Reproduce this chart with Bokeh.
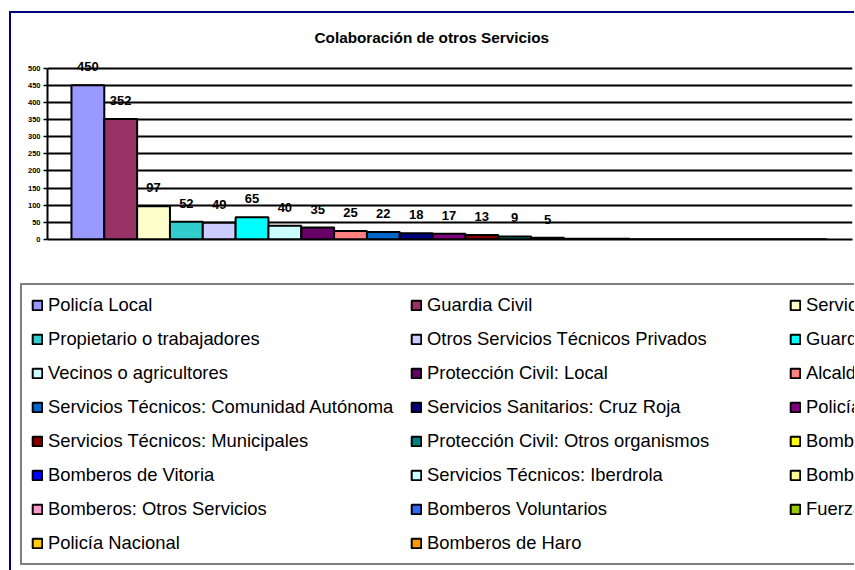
from bokeh.plotting import figure
from bokeh.layouts import column
from bokeh.models import (ColumnDataSource, Range1d, FixedTicker, Legend, LegendItem,
                          LabelSet)
from bokeh.core.properties import value
from bokeh.embed import file_html
from bokeh.resources import INLINE

title = "Colaboración de otros Servicios"

categories = [
    "Policía Local", "Guardia Civil", "Servicios Sanitarios: Ambulancias",
    "Propietario o trabajadores", "Otros Servicios Técnicos Privados", "Guardería Forestal",
    "Vecinos o agricultores", "Protección Civil: Local", "Alcaldía",
    "Servicios Técnicos: Comunidad Autónoma", "Servicios Sanitarios: Cruz Roja", "Policía Autonómica",
    "Servicios Técnicos: Municipales", "Protección Civil: Otros organismos", "Bomberos Forestales",
    "Bomberos de Vitoria", "Servicios Técnicos: Iberdrola", "Bomberos de Miranda",
    "Bomberos: Otros Servicios", "Bomberos Voluntarios", "Fuerzas Armadas",
    "Policía Nacional", "Bomberos de Haro",
]

values = [450, 352, 97, 52, 49, 65, 40, 35, 25, 22, 18, 17, 13, 9, 5,
          2, 2, 1, 1, 1, 1, 1, 1]

shown_labels = ["450", "352", "97", "52", "49", "65", "40", "35", "25", "22",
                "18", "17", "13", "9", "5", "", "", "", "", "", "", "", ""]

colors = ["#9999FF", "#993366", "#FFFFCC", "#33CCCC", "#CCCCFF", "#00FFFF",
          "#CCFFFF", "#660066", "#FF8080", "#0066CC", "#000080", "#800080",
          "#800000", "#008080", "#FFFF00", "#0000FF", "#CCFFFF", "#FFFF99",
          "#FF99CC", "#3366FF", "#99CC00", "#FFCC00", "#FF9900"]

y_ticks = [0, 50, 100, 150, 200, 250, 300, 350, 400, 450, 500]

idx = list(range(len(categories)))
source = ColumnDataSource(dict(x=idx, top=values, color=colors, name=categories,
                               lab=shown_labels))

# ---------------- chart ----------------
p = figure(width=843, height=262, output_backend="svg", toolbar_location=None,
           x_range=Range1d(-1.23, len(categories) - 0.5 + 0.79),
           y_range=Range1d(0, 540),
           min_border_left=36, min_border_right=2, min_border_top=41,
           min_border_bottom=36)

p.background_fill_color = "white"
p.border_fill_color = "white"
p.outline_line_color = None

p.title.text = title
p.title.align = "left"
p.title.offset = 267
p.title.text_font = "Liberation Sans"
p.title.text_font_size = "15.3px"
p.title.text_font_style = "bold"
p.title.text_color = "black"
p.title.standoff = 17

r = p.vbar(x="x", top="top", width=1.0, source=source, fill_color="color",
           line_color="black", line_width=2)

labels = LabelSet(x="x", y="top", text="lab", source=source, y_offset=14,
                  text_align="center", text_baseline="alphabetic",
                  text_font=value("Liberation Sans"), text_font_size=value("13px"),
                  text_font_style="bold", text_color="black")
p.add_layout(labels)

p.xgrid.visible = False
p.ygrid.ticker = FixedTicker(ticks=y_ticks)
p.ygrid.grid_line_color = "black"
p.ygrid.grid_line_width = 2

p.yaxis.ticker = FixedTicker(ticks=y_ticks)
p.yaxis.bounds = (0, 500)
p.yaxis.axis_line_color = "black"
p.yaxis.axis_line_width = 2
p.yaxis.major_tick_line_color = "black"
p.yaxis.major_tick_line_width = 1.5
p.yaxis.major_tick_in = 0
p.yaxis.major_tick_out = 4
p.yaxis.minor_tick_line_color = None
p.yaxis.major_label_text_font = "Liberation Sans"
p.yaxis.major_label_text_font_size = "7.5px"
p.yaxis.major_label_text_font_style = "bold"
p.yaxis.major_label_text_color = "black"
p.yaxis.major_label_standoff = 3

p.xaxis.axis_line_color = "black"
p.xaxis.axis_line_width = 2
p.xaxis.major_tick_line_color = None
p.xaxis.minor_tick_line_color = None
p.xaxis.major_tick_in = 0
p.xaxis.major_tick_out = 0
p.xaxis.major_label_text_font_size = "0px"
p.xaxis.major_label_text_color = None
p.xaxis.major_label_standoff = 0

# ---------------- legend panel ----------------
lg = figure(width=843, height=295, output_backend="svg", toolbar_location=None,
            x_range=Range1d(-1.23, len(categories) - 0.5 + 0.79),
            y_range=Range1d(0, 540),
            x_axis_location=None, y_axis_location=None,
            min_border=0, min_border_left=0, min_border_right=0,
            min_border_top=0, min_border_bottom=0)
lg.grid.visible = False
lg.outline_line_color = None
lg.background_fill_color = "white"
lg.border_fill_color = "white"
lr = lg.vbar(x="x", top="top", width=1.0, source=source, fill_color="color",
             line_color="black", line_width=2)
lr.visible = False

items = [LegendItem(label=name, renderers=[lr], index=i) for i, name in enumerate(categories)]
legend = Legend(items=items, location=(9, 5), orientation="horizontal", ncols=3,
                label_text_font="Liberation Sans", label_text_font_size="18.4px",
                label_text_color="black", border_line_color="black",
                border_line_width=2, background_fill_color="white",
                background_fill_alpha=1.0, padding=9, margin=0, spacing=12,
                glyph_width=12, glyph_height=12, label_standoff=5, label_height=21,
                label_width=350, inactive_fill_alpha=0.0, click_policy="none")
lg.add_layout(legend, "center")

layout = column(p, column(lg), spacing=0,
                styles={"margin-left": "9px", "margin-top": "11px",
                        "border-left": "2px solid #000080",
                        "border-top": "2px solid #000080"})

open("out.html", "w").write(file_html(layout, INLINE))
